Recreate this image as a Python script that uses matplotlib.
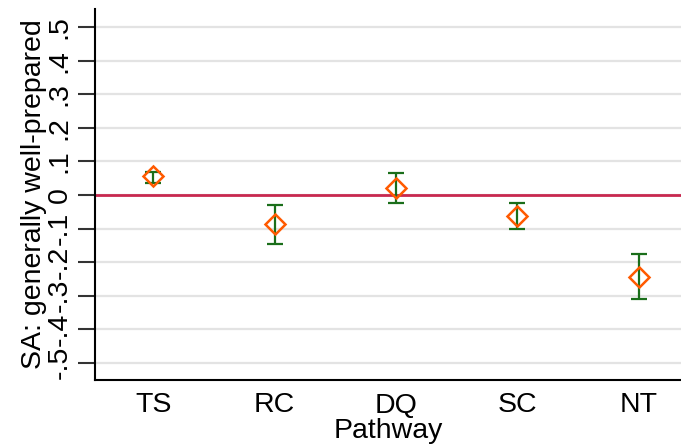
import matplotlib
matplotlib.use("Agg")
import matplotlib.pyplot as plt

plt.rcParams['font.family'] = ['Liberation Sans', 'DejaVu Sans']

pathways = ['TS', 'RC', 'DQ', 'SC', 'NT']
estimate = [0.057, -0.088, 0.021, -0.062, -0.245]
ci_low = [0.037, -0.146, -0.024, -0.100, -0.311]
ci_high = [0.069, -0.030, 0.066, -0.025, -0.176]
yticks = [-0.5, -0.4, -0.3, -0.2, -0.1, 0, 0.1, 0.2, 0.3, 0.4, 0.5]
ytick_labels = ['-.5', '-.4', '-.3', '-.2', '-.1', '0', '.1', '.2', '.3', '.4', '.5']

fig = plt.figure(figsize=(6.81, 4.45), dpi=100)
ax = fig.add_axes([95 / 681, 65 / 445, 1 - 95 / 681, 371 / 445])

x = list(range(1, len(pathways) + 1))
err_lo = [e - l for e, l in zip(estimate, ci_low)]
err_hi = [h - e for e, h in zip(estimate, ci_high)]

# grid lines and zero line
for t in yticks:
    ax.axhline(t, color='#e3e3e3', lw=1.6, zorder=0)
ax.axhline(0, color='#c8284f', lw=2, zorder=1)

ax.errorbar(x, estimate, yerr=[err_lo, err_hi], fmt='none', ecolor='#1a6e1a',
            elinewidth=1.6, capsize=5.5, capthick=1.6, zorder=2)
ax.plot(x, estimate, linestyle='none', marker='D', markersize=10.5, markerfacecolor='none',
        markeredgecolor='#ff5a00', markeredgewidth=1.8, zorder=3)

ax.set_xlim(0.52, 5.35)
ax.set_ylim(-0.552, 0.555)
ax.set_xticks(x)
ax.set_xticklabels(pathways, fontsize=20.5)
ax.set_yticks(yticks)
ax.set_yticklabels(ytick_labels, fontsize=20.5, rotation=90, va='center')
ax.tick_params(axis='x', length=0, pad=9)
ax.tick_params(axis='y', length=12, width=1.5, color='#333333', pad=4)

ax.spines['top'].set_visible(False)
ax.spines['right'].set_visible(False)
ax.spines['left'].set_linewidth(1.5)
ax.spines['bottom'].set_linewidth(1.5)

ax.set_xlabel('Pathway', fontsize=20.5, labelpad=0)
ax.set_ylabel('SA: generally well-prepared', fontsize=20.5, labelpad=0)

fig.savefig('out.png', dpi=100)
